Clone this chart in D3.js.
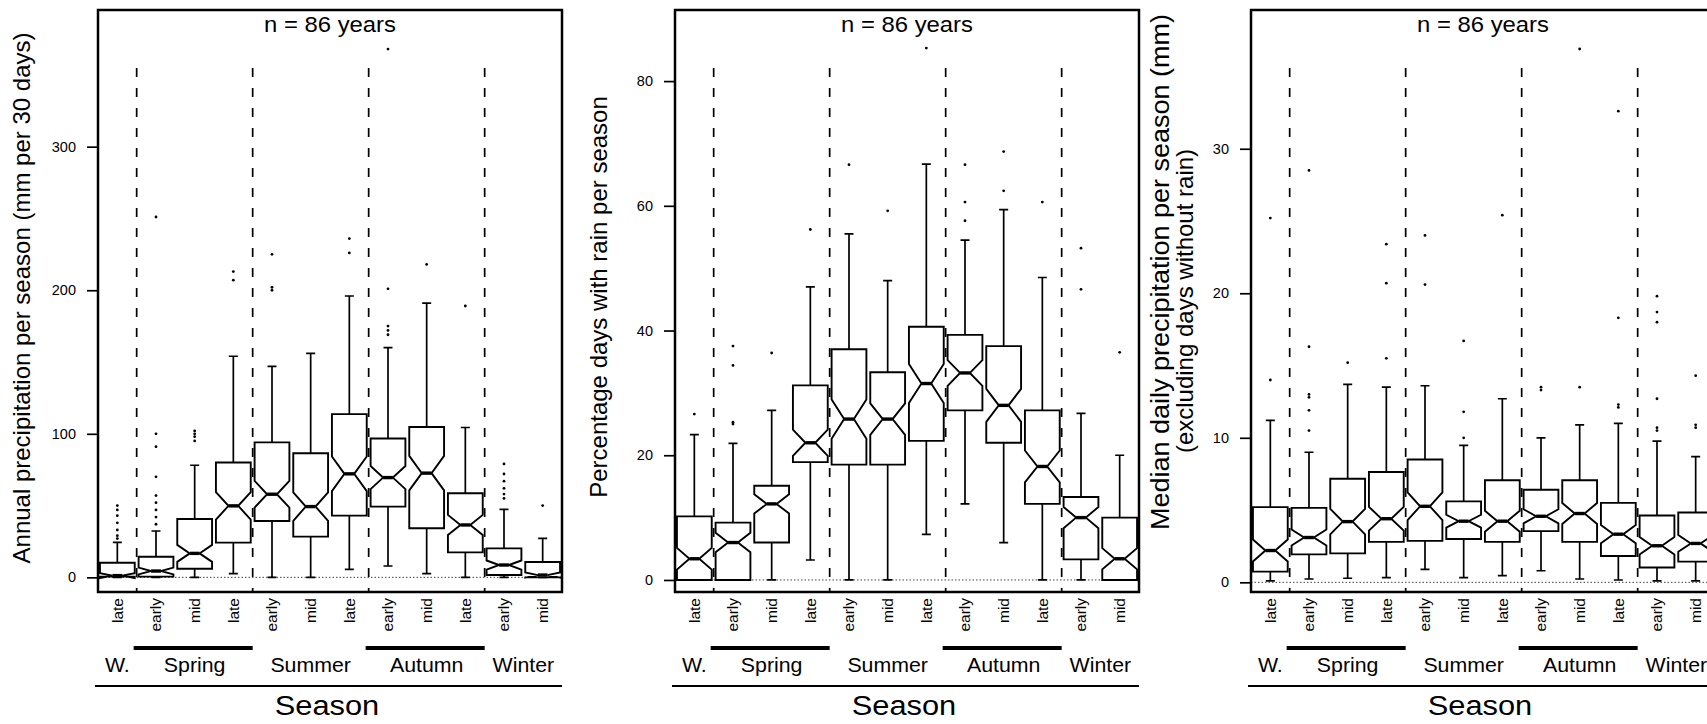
<!DOCTYPE html>
<html>
<head>
<meta charset="utf-8">
<script src="https://cdn.jsdelivr.net/npm/d3@7.9.0/dist/d3.min.js"></script>
<style>
  html, body { margin: 0; padding: 0; background: #fff; }
  svg { display: block; font-family: "Liberation Sans", Arial, Helvetica, sans-serif; }
</style>
</head>
<body>
<svg id="chart" width="1707" height="724"></svg>
<script>
// ---------- data ----------
const periods = ['late', 'early', 'mid', 'late', 'early', 'mid', 'late', 'early', 'mid', 'late', 'early', 'mid'];
const seasonNames = ['W.', 'Spring', 'Summer', 'Autumn', 'Winter'];
const seasonSpans = [[1, 1], [2, 4], [5, 7], [8, 10], [11, 12]];
const seasonBar   = [false, true, false, true, false];
const separators  = [1, 4, 7, 10];   // boundaries between seasons (category index)
const nYears = 86;

// each row: [lower whisker, Q1, median, Q3, upper whisker]
const precipStats = [
  [0, 0.5, 1.2, 10.2, 24.4],
  [0, 0.5, 4.4, 14.4, 32.3],
  [0, 6.0, 16.7, 40.7, 78.1],
  [2.6, 24.2, 49.8, 80, 154],
  [0, 39.3, 57.9, 94, 147],
  [0, 28.4, 49.3, 86.5, 156],
  [5.6, 43, 72.1, 113.7, 196],
  [7.9, 49.3, 69.5, 96.7, 160],
  [2.6, 34.2, 72.6, 104.7, 191],
  [0, 17.4, 36.5, 58.6, 104.4],
  [0, 1.6, 8.6, 20.2, 47.4],
  [0, 0, 1.6, 10.7, 27.2]
];
const precipOutliers = [
  [27, 29, 33, 38, 43, 47, 50],
  [37, 42, 47, 52, 57, 70, 91, 100, 251],
  [95, 98, 100, 102],
  [207, 213],
  [200, 202, 225],
  [],
  [226, 236],
  [169, 172, 175, 201, 368],
  [218],
  [189],
  [55, 58, 62, 67, 72, 79],
  [50]
];
const precipTicks = [0, 100, 200, 300];

const rainDayStats = [
  [0, 0, 3.4, 10.2, 23.3],
  [0, 0, 6.0, 9.2, 21.9],
  [0, 6.0, 12.2, 15.1, 27.2],
  [3.2, 18.9, 22, 31.2, 47],
  [0, 18.5, 25.8, 37, 55.5],
  [0, 18.5, 25.8, 33.3, 48],
  [7.3, 22.3, 31.5, 40.6, 66.7],
  [12.2, 27.2, 33.2, 39.3, 54.5],
  [6, 22, 28, 37.5, 59.4],
  [0, 12.2, 18.2, 27.2, 48.5],
  [0, 3.3, 10, 13.3, 26.7],
  [0, 0, 3.4, 10, 20]
];
const rainDayOutliers = [
  [26.6],
  [25, 25.3, 34.4, 37.5],
  [36.4],
  [56.2],
  [66.6],
  [59.2],
  [85.3],
  [57.6, 60.6, 66.6],
  [62.4, 68.7],
  [60.6],
  [46.6, 53.2],
  [36.5]
];
const rainDayTicks = [0, 20, 40, 60, 80];

const dailyStats = [
  [0.1, 0.74, 2.2, 5.2, 11.2],
  [0.23, 1.93, 3.1, 5.15, 9.0],
  [0.28, 2.0, 4.2, 7.17, 13.7],
  [0.32, 2.8, 4.4, 7.63, 13.5],
  [0.9, 2.87, 5.26, 8.5, 13.6],
  [0.32, 3.0, 4.23, 5.6, 9.47],
  [0.46, 2.8, 4.23, 7.06, 12.7],
  [0.8, 3.54, 4.57, 6.4, 10],
  [0.23, 2.8, 4.76, 7.06, 10.9],
  [0.16, 1.82, 3.33, 5.5, 11.0],
  [0.1, 1.03, 2.53, 4.62, 9.77],
  [0.1, 1.43, 2.69, 4.83, 8.7]
];
const dailyOutliers = [
  [14, 25.2],
  [10.5, 11.9, 12.8, 13.0, 16.3, 28.5],
  [15.2],
  [15.5, 20.7, 23.4],
  [20.6, 24],
  [10, 11.8, 16.7],
  [25.4],
  [13.3, 13.5],
  [13.5, 36.9],
  [12.1, 12.3, 18.3, 32.6],
  [10.5, 10.7, 12.7, 18, 18.7, 19.8],
  [10.7, 10.9, 14.3]
];
const dailyTicks = [0, 10, 20, 30];

// ---------- layout ----------
const panelWidth = 464;
const plotTop = 10, plotBottom = 592;
const sepTop = 68;

const panels = [
  { left: 98,   stats: precipStats,  outliers: precipOutliers,  ticks: precipTicks,
    domain: [-10.2, 395.2],
    titles: [{ text: 'Annual precipitation per season (mm per 30 days)', x: 30, y: 298, size: 24 }] },
  { left: 675,  stats: rainDayStats, outliers: rainDayOutliers, ticks: rainDayTicks,
    domain: [-1.93, 91.4],
    titles: [{ text: 'Percentage days with rain per season', x: 607, y: 297, size: 24 }] },
  { left: 1251, stats: dailyStats,   outliers: dailyOutliers,   ticks: dailyTicks,
    domain: [-0.67, 39.6],
    titles: [{ text: 'Median daily precipitation per season (mm)', x: 1169, y: 272, size: 25, len: 516 },
             { text: '(excluding days without rain)', x: 1193, y: 301, size: 24 }] }
];

const svg = d3.select('#chart');

// horizontal text, slightly widened like the scanned original
function hText(g, x, y, size, sx, str) {
  return g.append('text')
    .attr('transform', `translate(${x},${y}) scale(${sx},1)`)
    .attr('text-anchor', 'middle').attr('font-size', size)
    .text(str);
}

function drawPanel(p) {
  const g = svg.append('g');
  const x = d3.scaleBand().domain(d3.range(periods.length)).range([p.left, p.left + panelWidth]);
  const y = d3.scaleLinear().domain(p.domain).range([plotBottom, plotTop]);
  const bw = x.bandwidth();
  const hw = bw * 0.45;
  const cx = i => x(i) + bw / 2;

  // zero reference line
  g.append('line')
    .attr('x1', p.left).attr('x2', p.left + panelWidth)
    .attr('y1', y(0)).attr('y2', y(0))
    .attr('stroke', '#444').attr('stroke-width', 1).attr('stroke-dasharray', '1.5,2');

  // season separators
  g.selectAll('line.sep').data(separators).join('line')
    .attr('class', 'sep')
    .attr('x1', d => x(d)).attr('x2', d => x(d))
    .attr('y1', sepTop).attr('y2', plotBottom)
    .attr('stroke', '#000').attr('stroke-width', 1.7).attr('stroke-dasharray', '9,11');

  const boxes = g.selectAll('g.box').data(p.stats).join('g').attr('class', 'box');

  // whiskers
  boxes.append('path')
    .attr('d', (s, i) => {
      const c = cx(i), st = 4.5;
      return `M${c},${y(s[3])}V${y(s[4])}M${c - st},${y(s[4])}H${c + st}` +
             `M${c},${y(s[1])}V${y(s[0])}M${c - st},${y(s[0])}H${c + st}`;
    })
    .attr('fill', 'none').attr('stroke', '#000').attr('stroke-width', 1.7);

  // notched boxes
  boxes.append('path')
    .attr('d', (s, i) => {
      const [, q1, med, q3] = s;
      const nd = 1.58 * (q3 - q1) / Math.sqrt(nYears);
      const c = cx(i), inset = hw * 0.72;
      const pts = [
        [c - hw, y(q1)], [c - hw, y(med - nd)], [c - hw + inset, y(med)], [c - hw, y(med + nd)], [c - hw, y(q3)],
        [c + hw, y(q3)], [c + hw, y(med + nd)], [c + hw - inset, y(med)], [c + hw, y(med - nd)], [c + hw, y(q1)]
      ];
      return d3.line()(pts) + 'Z';
    })
    .attr('fill', '#fff').attr('stroke', '#000').attr('stroke-width', 1.9).attr('stroke-linejoin', 'miter');

  // medians
  boxes.append('line')
    .attr('x1', (s, i) => cx(i) - hw * 0.28).attr('x2', (s, i) => cx(i) + hw * 0.28)
    .attr('y1', s => y(s[2])).attr('y2', s => y(s[2]))
    .attr('stroke', '#000').attr('stroke-width', 3.4);

  // outliers
  const pts = p.outliers.flatMap((vals, i) => vals.map(v => ({ i, v })));
  g.selectAll('circle.out').data(pts).join('circle')
    .attr('class', 'out')
    .attr('cx', d => cx(d.i)).attr('cy', d => y(d.v)).attr('r', 1.4)
    .attr('fill', '#000');

  // frame
  g.append('rect')
    .attr('x', p.left).attr('y', plotTop)
    .attr('width', panelWidth).attr('height', plotBottom - plotTop)
    .attr('fill', 'none').attr('stroke', '#000').attr('stroke-width', 2.5);

  // y axis
  const yAxis = d3.axisLeft(y).tickValues(p.ticks).tickSize(11).tickPadding(11).tickFormat(d3.format('d'));
  const ax = g.append('g').attr('transform', `translate(${p.left},0)`).call(yAxis);
  ax.select('.domain').remove();
  ax.selectAll('line').attr('stroke', '#000').attr('stroke-width', 1.7);
  ax.selectAll('text').attr('font-size', 14.5).attr('fill', '#000')
    .style('font-family', '"Liberation Sans", Arial, sans-serif');

  // n label
  hText(g, p.left + panelWidth / 2, 32, 21.5, 1.11, `n = ${nYears} years`);

  // category labels
  g.selectAll('text.cat').data(periods).join('text')
    .attr('class', 'cat')
    .attr('transform', (d, i) => `translate(${cx(i)},598) rotate(-90)`)
    .attr('text-anchor', 'end').attr('dy', '0.35em').attr('font-size', 15.5)
    .text(d => d);

  // season bars and names
  seasonNames.forEach((name, k) => {
    const [a, b] = seasonSpans[k];
    const x0 = x(a - 1), x1 = x(b - 1) + bw;
    if (seasonBar[k]) {
      g.append('line').attr('x1', x0 - 3).attr('x2', x1).attr('y1', 648).attr('y2', 648)
        .attr('stroke', '#000').attr('stroke-width', 4);
    }
    hText(g, (x0 + x1) / 2, 672, 20.5, 1.04, name);
  });

  g.append('line')
    .attr('x1', p.left - 3).attr('x2', p.left + panelWidth).attr('y1', 686).attr('y2', 686)
    .attr('stroke', '#000').attr('stroke-width', 2);

  hText(g, p.left + panelWidth / 2 - 3, 715, 28, 1.1, 'Season');

  // y titles
  p.titles.forEach(t => {
    const el = g.append('text')
      .attr('transform', `translate(${t.x},${t.y}) rotate(-90)`)
      .attr('text-anchor', 'middle').attr('font-size', t.size)
      .text(t.text);
    if (t.len) el.attr('textLength', t.len).attr('lengthAdjust', 'spacingAndGlyphs');
  });
}

panels.forEach(drawPanel);
</script>
</body>
</html>
